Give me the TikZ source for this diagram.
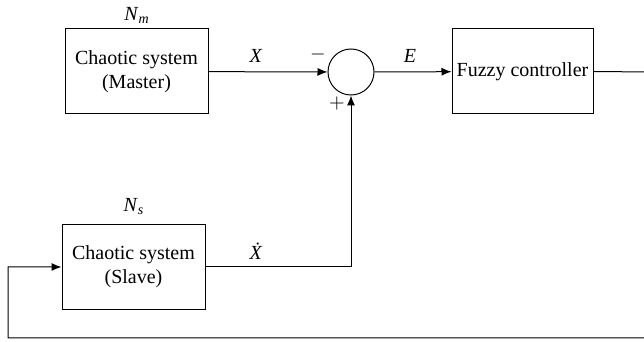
\documentclass[tikz,border=0pt]{standalone}
\usepackage{fontspec}
\setmainfont{Liberation Serif}
\usetikzlibrary{arrows.meta,positioning,calc}
\tikzset{
  block/.style={draw,minimum width=71.5pt,minimum height=42.5pt,align=center,
    inner sep=0pt},
  flow/.style={-{Latex[length=5pt,width=4pt]},line width=0.5pt},
  link/.style={line width=0.5pt},
  lbl/.style={font=\normalsize,inner sep=1pt}
}
\begin{document}
\begin{tikzpicture}[x=0.5pt,y=-0.5pt,line width=0.5pt]
  \useasboundingbox (0,0) rectangle (644,342);
  \clip (0,0) rectangle (644,342);
  \node[block] (master) at (136.5,71.5) {Chaotic system\\(Master)};
  \node[block] (slave) at (133.5,267) {Chaotic system\\(Slave)};
  \node[draw,circle,minimum size=23pt,inner sep=0pt] (sum) at (351,72) {};
  \node[block,minimum width=70.5pt] (fuzzy) at (522.5,71.5) {Fuzzy controller};
  \node[lbl] (nm) at (137,15) {\textit{N}\textsubscript{\textit{m}}};
  \node[lbl] (ns) at (134,207) {\textit{N}\textsubscript{\textit{s}}};
  \node[lbl] (xm) at (256,56) {\textit{X}};
  \node[lbl] (xs) at (256,251) {\textit{\.X}};
  \node[lbl] (err) at (410,56) {\textit{E}};
  \node[lbl] (minus) at (318,55) {$-$};
  \node[lbl] (plus) at (337,104) {$+$};
  \coordinate (tr) at (650,72);
  \coordinate (br) at (650,338);
  \coordinate (bl) at (8,338);
  \draw[flow] (master) -- (sum);
  \draw[flow] (sum) -- (fuzzy);
  \draw[flow] (slave.east) -| (sum.south);
  \draw[flow] (fuzzy.east) -- (tr) -- (br) -- (bl) |- (slave.west);
\end{tikzpicture}
\end{document}
